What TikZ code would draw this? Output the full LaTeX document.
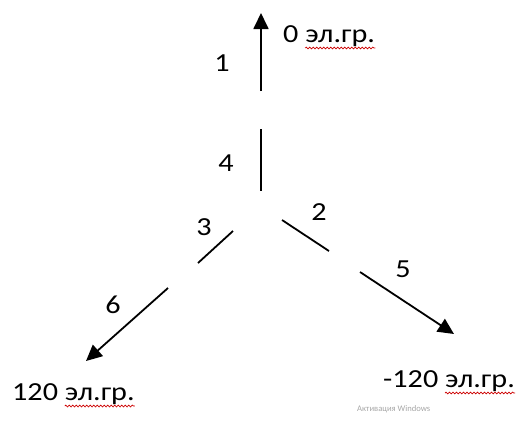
\documentclass[tikz,border=0pt]{standalone}
\usepackage{fontspec}
\setmainfont{Carlito}[FakeStretch=1.16]
\newfontfamily\wmfont{Carlito}
\usetikzlibrary{arrows.meta,decorations.pathmorphing}
\begin{document}
\begin{tikzpicture}[x=1pt,y=-1pt,
  seg/.style={line width=1.8pt},
  arr/.style={line width=1.8pt,-{Triangle[length=16pt,width=15pt]}},
  lbl/.style={font=\fontsize{26}{30}\selectfont, inner sep=0pt},
  wm/.style={font=\wmfont\fontsize{8.6}{11}\selectfont, text=black!35, inner sep=0pt},
  wavy/.style={red!80!black, line width=0.7pt, decorate, decoration={snake, amplitude=0.9pt, segment length=3.5pt}}]
\useasboundingbox (0,0) rectangle (520,424);
% segment end points
\coordinate (a1s) at (261,91);  \coordinate (a1e) at (261,13);
\coordinate (s4s) at (261,129); \coordinate (s4e) at (261,191);
\coordinate (s3s) at (233,231); \coordinate (s3e) at (198,263);
\coordinate (a6s) at (168,288); \coordinate (a6e) at (86,361);
\coordinate (s2s) at (282,220); \coordinate (s2e) at (329,251);
\coordinate (a5s) at (360,272); \coordinate (a5e) at (454,334);
% connectors
\draw[arr] (a1s) -- (a1e);
\draw[seg] (s4s) -- (s4e);
\draw[seg] (s3s) -- (s3e);
\draw[arr] (a6s) -- (a6e);
\draw[seg] (s2s) -- (s2e);
\draw[arr] (a5s) -- (a5e);
% number labels
\node[lbl] (l1) at (222,63) {1};
\node[lbl] (l4) at (226,163) {4};
\node[lbl] (l3) at (204,227) {3};
\node[lbl] (l2) at (319,212) {2};
\node[lbl] (l5) at (403,269) {5};
\node[lbl] (l6) at (113,305) {6};
% angle labels
\node[lbl, anchor=base west] (t0n) at (283,42) {0};
\node[lbl, anchor=base west, xshift=6.5pt] (t0w) at (t0n.base east) {эл.гр.};
\node[lbl, anchor=base west] (t1n) at (12,400) {120};
\node[lbl, anchor=base west, xshift=6.5pt] (t1w) at (t1n.base east) {эл.гр.};
\node[lbl, anchor=base west] (t2n) at (383,387) {-120};
\node[lbl, anchor=base west, xshift=6.5pt] (t2w) at (t2n.base east) {эл.гр.};
% spell-check underlines
\draw[wavy] ([yshift=-6pt]t0w.base west) -- ([yshift=-6pt]t0w.base east);
\draw[wavy] ([yshift=-6pt]t1w.base west) -- ([yshift=-6pt]t1w.base east);
\draw[wavy] ([yshift=-6pt]t2w.base west) -- ([yshift=-6pt]t2w.base east);
% watermark
\node[wm, anchor=base west] (wmk) at (357,411) {Активация Windows};
\end{tikzpicture}
\end{document}
